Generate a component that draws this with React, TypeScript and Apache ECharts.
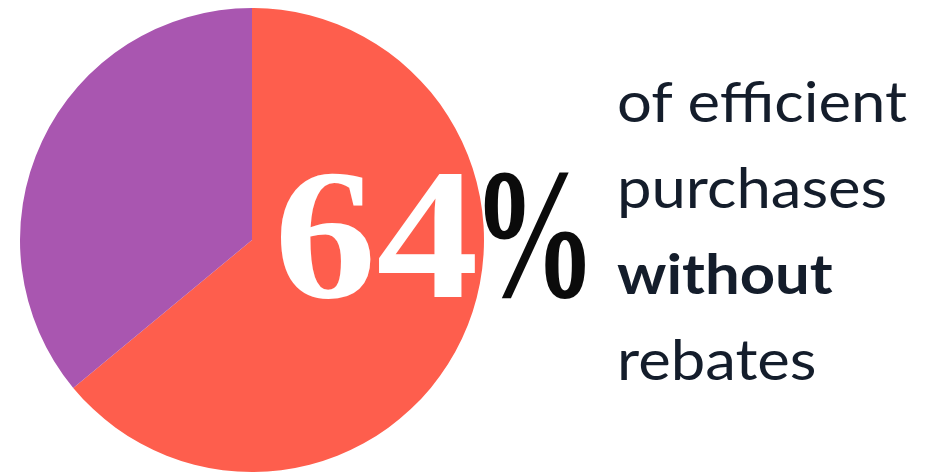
import React, { useEffect, useRef } from "react";
import * as echarts from "echarts";

const sliceNames = ["Without rebates", "With rebates"];
const sliceValues = [64, 36];
const sliceColors = ["#fe5e4d", "#a956b0"];
const bigNumber = "64";
const bigSuffix = "%";
const captionLines = ["of efficient", "purchases", "without", "rebates"];
const captionBold = [false, false, true, false];

export default function App() {
  const ref = useRef<HTMLDivElement>(null);
  useEffect(() => {
    document.body.style.margin = "0";
    if (!ref.current) return;
    const chart = echarts.init(ref.current, null, { renderer: "svg" });
    const lineTop = 101;
    const lineGap = 86;
    chart.setOption({
      animation: false,
      backgroundColor: "#ffffff",
      series: [
        {
          type: "pie",
          center: [252, 240],
          radius: 232,
          startAngle: 90,
          clockwise: true,
          silent: true,
          label: { show: false },
          labelLine: { show: false },
          itemStyle: { borderWidth: 0 },
          data: sliceNames.map((n, i) => ({
            name: n,
            value: sliceValues[i],
            itemStyle: { color: sliceColors[i] },
          })),
        },
      ],
      graphic: [
        {
          type: "text",
          x: 274,
          y: 234,
          scaleX: 1.1,
          z: 10,
          style: {
            text: bigNumber,
            fontFamily: "Liberation Serif",
            fontWeight: "bold",
            fontSize: 186,
            fill: "#ffffff",
            align: "left",
            verticalAlign: "middle",
          },
        },
        {
          type: "text",
          x: 472,
          y: 234,
          scaleX: 0.67,
          z: 10,
          style: {
            text: bigSuffix,
            fontFamily: "Liberation Serif",
            fontWeight: "bold",
            fontSize: 186,
            fill: "#0b0b0b",
            align: "left",
            verticalAlign: "middle",
          },
        },
        ...captionLines.map((t, i) => ({
          type: "text",
          x: 617,
          y: lineTop + i * lineGap,
          scaleX: 1.1,
          z: 10,
          style: {
            text: t,
            fontFamily: "Lato",
            fontWeight: captionBold[i] ? "bold" : "normal",
            fontSize: 56,
            fill: "#141d2b",
            align: "left",
            verticalAlign: "middle",
          },
        })),
      ],
    });
    return () => chart.dispose();
  }, []);
  return <div ref={ref} style={{ width: 932, height: 474 }} />;
}
